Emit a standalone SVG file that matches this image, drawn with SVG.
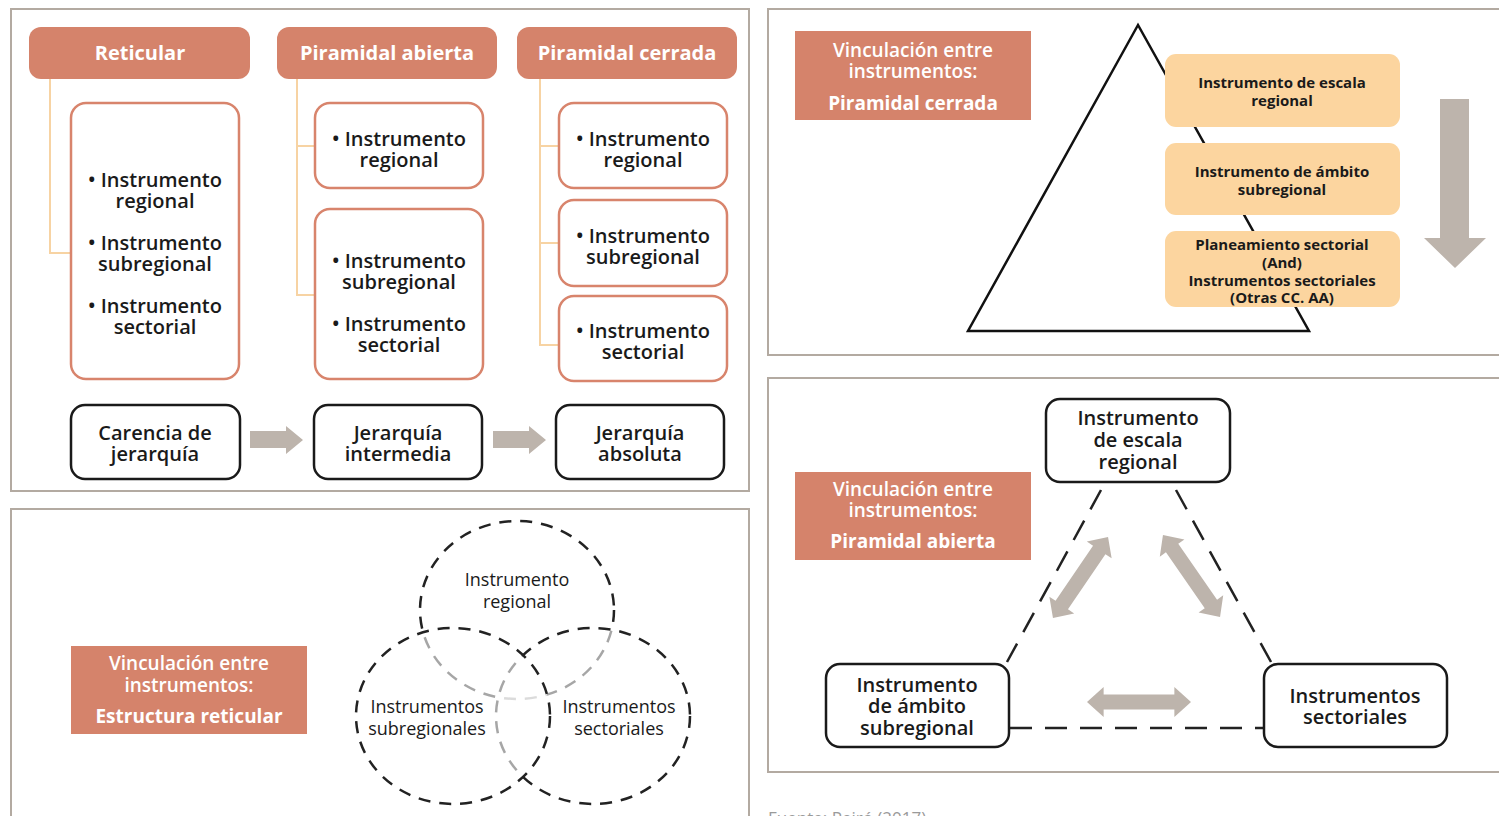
<svg xmlns="http://www.w3.org/2000/svg" width="1499" height="816" viewBox="0 0 1499 816">
<style>
.panel{fill:#fff;stroke:#b3aaa1;stroke-width:2}
.hdr{fill:#d5836b}
.hdrt{font-family:"Open Sans","Liberation Sans",sans-serif;font-weight:700;font-size:20px;fill:#fff;text-anchor:middle}
.obox{fill:#fff;stroke:#d8846c;stroke-width:2.5}
.bbox{fill:#fff;stroke:#1a1a1a;stroke-width:2.5}
.t{font-family:"Open Sans","Liberation Sans",sans-serif;font-weight:600;font-size:20px;fill:#1a1a1a;text-anchor:middle}
.t21{font-family:"Open Sans","Liberation Sans",sans-serif;font-weight:600;font-size:20px;fill:#1a1a1a;text-anchor:middle}
.tree{fill:none;stroke:#f7d3a3;stroke-width:2}
.garrow{fill:#bdb4ac}
.lab{fill:#d5836b}
.labt{font-family:"Open Sans","Liberation Sans",sans-serif;font-weight:600;font-size:19px;fill:#fff;text-anchor:middle}
.labb{font-family:"Open Sans","Liberation Sans",sans-serif;font-weight:700;font-size:19px;fill:#fff;text-anchor:middle}
.pbox{fill:#fcd59f}
.pt{font-family:"Open Sans","Liberation Sans",sans-serif;font-weight:700;font-size:15px;fill:#1a1a1a;text-anchor:middle}
.venn{fill:#fff;fill-opacity:0.6;stroke:#222;stroke-width:2.5;stroke-dasharray:12 9}
.vt{font-family:"Open Sans","Liberation Sans",sans-serif;font-size:18px;fill:#1a1a1a;text-anchor:middle}
.dash{stroke:#222;stroke-width:2.5;stroke-dasharray:22 13;fill:none}
</style>
<defs>
<path id="dbl" d="M-50,0 L-34,-15 L-34,-7.5 L34,-7.5 L34,-15 L50,0 L34,15 L34,7.5 L-34,7.5 L-34,15 Z"/>
</defs>

<!-- Panels -->
<rect class="panel" x="11" y="9" width="738" height="482"/>
<rect class="panel" x="11" y="509" width="738" height="330"/>
<rect class="panel" x="768" y="9" width="745" height="346"/>
<rect class="panel" x="768" y="378" width="745" height="394"/>

<g id="connectors">
<path class="tree" d="M50,79 V253 H71"/>
<path class="tree" d="M297,79 V295 H315 M297,146 H315"/>
<path class="tree" d="M540,79 V345 H559 M540,146 H559 M540,243 H559"/>
<polygon class="garrow" points="250,431 286,431 286,426 303,440 286,454 286,448 250,448"/>
<polygon class="garrow" points="493,431 529,431 529,426 546,440 529,454 529,448 493,448"/>
<line class="dash" x1="1101" y1="490" x2="1007" y2="662"/>
<line class="dash" x1="1176" y1="490" x2="1271" y2="662"/>
<line class="dash" x1="1010" y1="728" x2="1264" y2="728"/>
<use href="#dbl" class="garrow" transform="translate(1080.5,577.5) rotate(124.2) scale(0.98,1)"/>
<use href="#dbl" class="garrow" transform="translate(1191.5,576) rotate(55.2)"/>
<use href="#dbl" class="garrow" transform="translate(1139,702) scale(1.04,1)"/>
</g>

<g id="h-reticular"><rect class="hdr" x="29" y="27" width="221" height="52" rx="12"/><text class="hdrt" x="140" y="60">Reticular</text></g>
<g id="h-pabierta"><rect class="hdr" x="277" y="27" width="220" height="52" rx="12"/><text class="hdrt" x="387" y="60">Piramidal abierta</text></g>
<g id="h-pcerrada"><rect class="hdr" x="517" y="27" width="220" height="52" rx="12"/><text class="hdrt" x="627" y="60">Piramidal cerrada</text></g>

<g id="ret-box">
<rect class="obox" x="71" y="103" width="168" height="276" rx="15"/>
<text class="t" x="155" y="187">• Instrumento</text>
<text class="t" x="155" y="208">regional</text>
<text class="t" x="155" y="250">• Instrumento</text>
<text class="t" x="155" y="271">subregional</text>
<text class="t" x="155" y="313">• Instrumento</text>
<text class="t" x="155" y="334">sectorial</text>
</g>

<g id="pa-box1">
<rect class="obox" x="315" y="103" width="168" height="85" rx="15"/>
<text class="t" x="399" y="146">• Instrumento</text>
<text class="t" x="399" y="167">regional</text>
</g>
<g id="pa-box2">
<rect class="obox" x="315" y="209" width="168" height="170" rx="15"/>
<text class="t" x="399" y="268">• Instrumento</text>
<text class="t" x="399" y="289">subregional</text>
<text class="t" x="399" y="331">• Instrumento</text>
<text class="t" x="399" y="352">sectorial</text>
</g>

<g id="pc-box1">
<rect class="obox" x="559" y="103" width="168" height="85" rx="15"/>
<text class="t" x="643" y="146">• Instrumento</text>
<text class="t" x="643" y="167">regional</text>
</g>
<g id="pc-box2">
<rect class="obox" x="559" y="200" width="168" height="86" rx="15"/>
<text class="t" x="643" y="243">• Instrumento</text>
<text class="t" x="643" y="264">subregional</text>
</g>
<g id="pc-box3">
<rect class="obox" x="559" y="296" width="168" height="85" rx="15"/>
<text class="t" x="643" y="338">• Instrumento</text>
<text class="t" x="643" y="359">sectorial</text>
</g>

<g id="b-carencia">
<rect class="bbox" x="71" y="405" width="169" height="74" rx="14"/>
<text class="t" x="155" y="440">Carencia de</text>
<text class="t" x="155" y="461">jerarquía</text>
</g>
<g id="b-intermedia">
<rect class="bbox" x="314" y="405" width="168" height="74" rx="14"/>
<text class="t" x="398" y="440">Jerarquía</text>
<text class="t" x="398" y="461">intermedia</text>
</g>
<g id="b-absoluta">
<rect class="bbox" x="556" y="405" width="168" height="74" rx="14"/>
<text class="t" x="640" y="440">Jerarquía</text>
<text class="t" x="640" y="461">absoluta</text>
</g>

<g id="lab-reticular">
<rect class="lab" x="71" y="646" width="236" height="88"/>
<text class="labt" x="189" y="670">Vinculación entre</text>
<text class="labt" x="189" y="692">instrumentos:</text>
<text class="labb" x="189" y="723">Estructura reticular</text>
</g>
<g id="venn-regional">
<ellipse class="venn" cx="517" cy="610" rx="97" ry="89"/>
<text class="vt" x="517" y="586">Instrumento</text>
<text class="vt" x="517" y="608">regional</text>
</g>
<g id="venn-sectoriales">
<ellipse class="venn" cx="593" cy="716" rx="97" ry="88"/>
<text class="vt" x="619" y="713">Instrumentos</text>
<text class="vt" x="619" y="735">sectoriales</text>
</g>
<g id="venn-subregionales">
<ellipse class="venn" cx="453" cy="716" rx="97" ry="88"/>
<text class="vt" x="427" y="713">Instrumentos</text>
<text class="vt" x="427" y="735">subregionales</text>
</g>

<g id="lab-pcerrada">
<rect class="lab" x="795" y="31" width="236" height="89"/>
<text class="labt" x="913" y="57">Vinculación entre</text>
<text class="labt" x="913" y="78">instrumentos:</text>
<text class="labb" x="913" y="110">Piramidal cerrada</text>
</g>
<polygon id="pyramid" points="1138,25 968,331 1309,331" fill="none" stroke="#111" stroke-width="2.5"/>
<g id="p-regional">
<rect class="pbox" x="1165" y="54" width="235" height="73" rx="11"/>
<text class="pt" x="1282" y="88">Instrumento de escala</text>
<text class="pt" x="1282" y="106">regional</text>
</g>
<g id="p-subregional">
<rect class="pbox" x="1165" y="143" width="235" height="72" rx="11"/>
<text class="pt" x="1282" y="177">Instrumento de ámbito</text>
<text class="pt" x="1282" y="195">subregional</text>
</g>
<g id="p-sectorial">
<rect class="pbox" x="1165" y="231" width="235" height="76" rx="11"/>
<text class="pt" x="1282" y="250">Planeamiento sectorial</text>
<text class="pt" x="1282" y="268">(And)</text>
<text class="pt" x="1282" y="286">Instrumentos sectoriales</text>
<text class="pt" x="1282" y="303">(Otras CC. AA)</text>
</g>
<polygon id="down-arrow" class="garrow" points="1440,99 1469,99 1469,238 1486,238 1455,268 1424,238 1440,238"/>

<g id="lab-pabierta">
<rect class="lab" x="795" y="472" width="236" height="88"/>
<text class="labt" x="913" y="496">Vinculación entre</text>
<text class="labt" x="913" y="517">instrumentos:</text>
<text class="labb" x="913" y="548">Piramidal abierta</text>
</g>
<g id="n-regional">
<rect class="bbox" x="1046" y="399" width="184" height="83" rx="14"/>
<text class="t21" x="1138" y="425">Instrumento</text>
<text class="t21" x="1138" y="447">de escala</text>
<text class="t21" x="1138" y="469">regional</text>
</g>
<g id="n-subregional">
<rect class="bbox" x="826" y="664" width="183" height="83" rx="14"/>
<text class="t21" x="917" y="692">Instrumento</text>
<text class="t21" x="917" y="713">de ámbito</text>
<text class="t21" x="917" y="735">subregional</text>
</g>
<g id="n-sectoriales">
<rect class="bbox" x="1264" y="664" width="183" height="83" rx="14"/>
<text class="t21" x="1355" y="703">Instrumentos</text>
<text class="t21" x="1355" y="724">sectoriales</text>
</g>

<text x="768" y="824" font-family="'Open Sans','Liberation Sans',sans-serif" font-size="17" fill="#9a9a9a">Fuente: Peiró (2017)</text>
</svg>
